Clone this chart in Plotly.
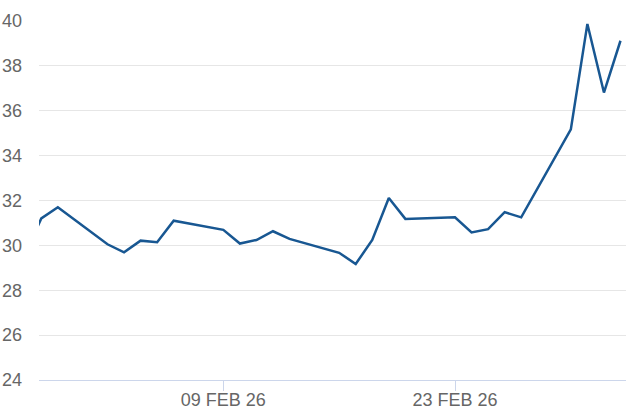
import plotly.graph_objects as go

dates = ["2026-01-28", "2026-01-29", "2026-01-30", "2026-02-02", "2026-02-03", "2026-02-04",
         "2026-02-05", "2026-02-06", "2026-02-09", "2026-02-10", "2026-02-11", "2026-02-12",
         "2026-02-13", "2026-02-16", "2026-02-17", "2026-02-18", "2026-02-19", "2026-02-20",
         "2026-02-23", "2026-02-24", "2026-02-25", "2026-02-26", "2026-02-27", "2026-03-02",
         "2026-03-03", "2026-03-04", "2026-03-05"]
values = [29.6, 31.2, 31.7, 30.05, 29.69, 30.21,
          30.14, 31.10, 30.69, 30.08, 30.24, 30.63,
          30.29, 29.67, 29.17, 30.24, 32.11, 31.18,
          31.25, 30.58, 30.72, 31.48, 31.25, 35.17,
          39.87, 36.81, 39.12]

x_tick_vals = ["2026-02-09", "2026-02-23"]
x_tick_text = ["09 FEB 26", "23 FEB 26"]
y_tick_vals = [24, 26, 28, 30, 32, 34, 36, 38, 40]

fig = go.Figure()
fig.add_trace(go.Scatter(
    x=dates, y=values, mode="lines",
    line=dict(color="#185792", width=2.5),
    hoverinfo="skip",
))

font = dict(family="Liberation Sans, Arial, sans-serif", size=18, color="#666666")

fig.update_layout(
    width=626, height=417,
    margin=dict(l=39, r=0, t=21, b=37, autoexpand=False),
    paper_bgcolor="white", plot_bgcolor="white",
    showlegend=False,
    font=font,
)
fig.update_xaxes(
    type="date", automargin=False,
    range=["2026-01-28 20:40", "2026-03-05 08:00"],
    tickvals=x_tick_vals, ticktext=x_tick_text,
    ticks="outside", ticklen=10, tickcolor="#ccd6eb", tickwidth=1,
    showgrid=False, showline=True, linecolor="#ccd6eb", linewidth=1,
    zeroline=False, tickfont=font, ticklabelstandoff=-7,
)
fig.update_yaxes(
    range=[24, 40], automargin=False,
    tickvals=y_tick_vals,
    showgrid=True, gridcolor="#e6e6e6", gridwidth=1,
    zeroline=False, showline=False,
    ticks="", ticklabelstandoff=16, tickfont=font,
)

# remove the browser's default 8px body margin so the figure fills the window
fig.write_html(
    "out.html",
    config={"displayModeBar": False},
    post_script="document.body.style.margin='0px';document.body.style.overflow='hidden';",
)
